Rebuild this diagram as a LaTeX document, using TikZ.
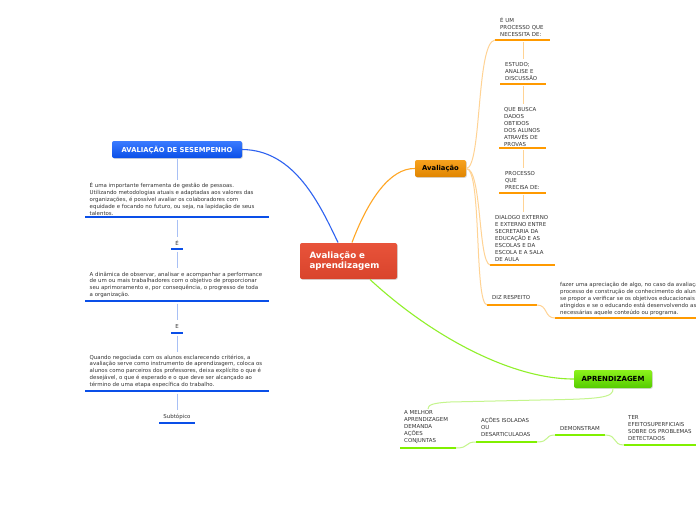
\documentclass[tikz,border=0pt]{standalone}
\usepackage{fontspec}
\setmainfont{DejaVu Sans}
\usetikzlibrary{shadows}
\definecolor{cred}{HTML}{E8533A}
\definecolor{credd}{HTML}{D9442C}
\definecolor{cbluet}{HTML}{3B7BFF}
\definecolor{cblueb}{HTML}{0A4FE8}
\definecolor{cblue}{HTML}{0A4FE8}
\definecolor{cbluel}{HTML}{A8C0F5}
\definecolor{cbluec}{HTML}{2E62F0}
\definecolor{corat}{HTML}{F7A21E}
\definecolor{corab}{HTML}{E08500}
\definecolor{cora}{HTML}{FF9A00}
\definecolor{coral}{HTML}{FFD394}
\definecolor{corac}{HTML}{FFA624}
\definecolor{cgrnt}{HTML}{8CF21C}
\definecolor{cgrnb}{HTML}{55CC00}
\definecolor{cgrn}{HTML}{80F000}
\definecolor{cgrnl}{HTML}{C4F58C}
\definecolor{cgrnc}{HTML}{90F02A}
\definecolor{ctxt}{HTML}{333333}
\tikzset{
  small/.style={font=\fontsize{5.45}{6.9}\selectfont, text=ctxt, inner sep=0pt, align=left, anchor=north west},
  mainbox/.style={rounded corners=2pt, minimum height=36pt, minimum width=97pt, text=white, font=\bfseries\fontsize{8.7}{10.5}\selectfont, align=left, text width=78pt, inner sep=0pt, top color=cred, bottom color=credd, drop shadow={shadow xshift=0.8pt, shadow yshift=-0.8pt, opacity=0.3}},
  bluebox/.style={rounded corners=2pt, minimum height=17pt, minimum width=130pt, text=white, font=\bfseries\fontsize{6.8}{8}\selectfont, inner sep=0pt, top color=cbluet, bottom color=cblueb, drop shadow={shadow xshift=0.8pt, shadow yshift=-0.8pt, opacity=0.3}},
  orabox/.style={rounded corners=2pt, minimum height=17pt, minimum width=51pt, text=black, font=\bfseries\fontsize{6.8}{8}\selectfont, inner sep=0pt, top color=corat, bottom color=corab, drop shadow={shadow xshift=0.8pt, shadow yshift=-0.8pt, opacity=0.3}},
  grnbox/.style={rounded corners=2pt, minimum height=18pt, minimum width=78pt, text=black, font=\bfseries\fontsize{7}{8}\selectfont, inner sep=0pt, top color=cgrnt, bottom color=cgrnb, drop shadow={shadow xshift=0.8pt, shadow yshift=-0.8pt, opacity=0.3}},
  bul/.style={draw=cblue, line width=2.4pt},
  oul/.style={draw=cora, line width=2.4pt},
  gul/.style={draw=cgrn, line width=2.4pt},
  blink/.style={draw=cbluel, line width=1pt},
  olink/.style={draw=coral, line width=1pt},
  glink/.style={draw=cgrnl, line width=1pt},
}
\begin{document}
\begin{tikzpicture}[x=1pt,y=-1pt]
\useasboundingbox (0,0) rectangle (696,520);
\clip (0,0) rectangle (696,520);
\fill[white] (0,0) rectangle (696,520);

% main nodes
\node[mainbox] (main) at (348.5,261) {Avaliação e\\aprendizagem};
\node[bluebox] (aval) at (177,149.5) {AVALIAÇÃO DE SESEMPENHO};
\node[orabox] (avl) at (440.5,168.5) {Avaliação};
\node[grnbox] (apr) at (613,379) {APRENDIZAGEM};

% main connectors
\draw[draw=cbluec, line width=1.1pt] (aval.east) .. controls (295,150) and (320,205) .. (338,242.5);
\draw[draw=corac, line width=1.1pt] (352,242.5) .. controls (368,200) and (390,168) .. (avl.west);
\draw[draw=cgrnc, line width=1.1pt] (370,279.5) .. controls (430,335) and (510,379) .. (apr.west);

% ---------- blue branch ----------
\node[small] (b1) at (89.5,182.3) {É uma importante ferramenta de gestão de pessoas.\\Utilizando metodologias atuais e adaptadas aos valores das\\organizações, é possível avaliar os colaboradores com\\equidade e focando no futuro, ou seja, na lapidação de seus\\talentos.};
\coordinate (b1l) at (85,217); \coordinate (b1r) at (269,217);
\draw[bul] (b1l) -- (b1r);
\draw[blink] (aval.south -| 177,0) -- (177,180);

\node[small, anchor=north] (b2) at (177,240.5) {É};
\coordinate (b2l) at (171,249); \coordinate (b2r) at (183,249);
\draw[bul] (b2l) -- (b2r);
\draw[blink] (177,219.5) -- (177,237);

\node[small] (b3) at (89.5,271.5) {A dinâmica de observar, analisar e acompanhar a performance\\de um ou mais trabalhadores com o objetivo de proporcionar\\seu aprimoramento e, por consequência, o progresso de toda\\a organização.};
\coordinate (b3l) at (85,301); \coordinate (b3r) at (269,301);
\draw[bul] (b3l) -- (b3r);
\draw[blink] (177,251.5) -- (177,268);

\node[small, anchor=north] (b4) at (177,324) {E};
\coordinate (b4l) at (171,333); \coordinate (b4r) at (183,333);
\draw[bul] (b4l) -- (b4r);
\draw[blink] (177,303.5) -- (177,320);

\node[small] (b5) at (89.5,354.5) {Quando negociada com os alunos esclarecendo critérios, a\\avaliação serve como instrumento de aprendizagem, coloca os\\alunos como parceiros dos professores, deixa explícito o que é\\desejável, o que é esperado e o que deve ser alcançado ao\\término de uma etapa específica do trabalho.};
\coordinate (b5l) at (85,391); \coordinate (b5r) at (269,391);
\draw[bul] (b5l) -- (b5r);
\draw[blink] (177,335.5) -- (177,352);

\node[small, anchor=north] (b6) at (177,413.5) {Subtópico};
\coordinate (b6l) at (159,423); \coordinate (b6r) at (195,423);
\draw[bul] (b6l) -- (b6r);
\draw[blink] (177,393.5) -- (177,410);

% ---------- orange branch ----------
\node[small] (o1) at (500,17) {É UM\\PROCESSO QUE\\NECESSITA DE:};
\coordinate (o1l) at (495,40); \coordinate (o1r) at (550,40);
\draw[oul] (o1l) -- (o1r);

\node[small] (o2) at (505,62) {ESTUDO;\\ANALISE E\\DISCUSSÃO};
\coordinate (o2l) at (500,84); \coordinate (o2r) at (546,84);
\draw[oul] (o2l) -- (o2r);
\draw[olink] (523,42) -- (523,59);

\node[small] (o3) at (504,107.5) {QUE BUSCA\\DADOS\\OBTIDOS\\DOS ALUNOS\\ATRAVÉS DE\\PROVAS};
\coordinate (o3l) at (499,148); \coordinate (o3r) at (546,148);
\draw[oul] (o3l) -- (o3r);
\draw[olink] (523,86) -- (523,104);

\node[small] (o4) at (505,171.5) {PROCESSO\\QUE\\PRECISA DE:};
\coordinate (o4l) at (499,193); \coordinate (o4r) at (546,193);
\draw[oul] (o4l) -- (o4r);
\draw[olink] (523,150) -- (523,168);

\node[small] (o5) at (495,215.5) {DIALOGO EXTERNO\\E EXTERNO ENTRE\\SECRETARIA DA\\EDUCAÇÃO E AS\\ESCOLAS E DA\\ESCOLA E A SALA\\DE AULA};
\coordinate (o5l) at (490,265); \coordinate (o5r) at (555,265);
\draw[oul] (o5l) -- (o5r);
\draw[olink] (523,195) -- (523,212);

\node[small] (o6) at (492,295.5) {DIZ RESPEITO};
\coordinate (o6l) at (487,305); \coordinate (o6r) at (537,305);
\draw[oul] (o6l) -- (o6r);

\node[small] (o7) at (560,282.5) {fazer uma apreciação de algo, no caso da avaliação\\processo de construção de conhecimento do aluno\\se propor a verificar se os objetivos educacionais\\atingidos e se o educando está desenvolvendo as\\necessárias aquele conteúdo ou programa.};
\coordinate (o7l) at (555,318); \coordinate (o7r) at (700,318);
\draw[oul] (o7l) -- (o7r);
\draw[olink] (o6r) .. controls (548,305) and (544,318) .. (o7l);

\draw[olink] (avl.east) .. controls (482,168) and (476,42) .. (o1l);
\draw[olink] (avl.east) .. controls (482,168) and (478,262) .. (o5l);
\draw[olink] (avl.east) .. controls (482,168) and (474,303) .. (o6l);

% ---------- green branch ----------
\node[small] (g1) at (404,410.5) {A MELHOR\\APRENDIZAGEM\\DEMANDA\\AÇÕES\\CONJUNTAS};
\coordinate (g1l) at (400,448); \coordinate (g1r) at (456,448);
\draw[gul] (g1l) -- (g1r);
\draw[glink] (apr.south) .. controls (614,398) and (600,399) .. (540,400) -- (450,402) .. controls (432,403) and (428,405) .. (428,409);

\node[small] (g2) at (481,417.5) {AÇÕES ISOLADAS\\OU\\DESARTICULADAS};
\coordinate (g2l) at (476,442); \coordinate (g2r) at (537,442);
\draw[gul] (g2l) -- (g2r);
\draw[glink] (g1r) .. controls (470,448) and (464,442) .. (g2l);

\node[small] (g3) at (560,426.5) {DEMONSTRAM};
\coordinate (g3l) at (555,435); \coordinate (g3r) at (605,435);
\draw[gul] (g3l) -- (g3r);
\draw[glink] (g2r) .. controls (550,442) and (544,435) .. (g3l);

\node[small] (g4) at (628,415.5) {TER\\EFEITOSUPERFICIAIS\\SOBRE OS PROBLEMAS\\DETECTADOS};
\coordinate (g4l) at (624,445); \coordinate (g4r) at (700,445);
\draw[gul] (g4l) -- (g4r);
\draw[glink] (g3r) .. controls (618,435) and (612,445) .. (g4l);
\end{tikzpicture}
\end{document}
